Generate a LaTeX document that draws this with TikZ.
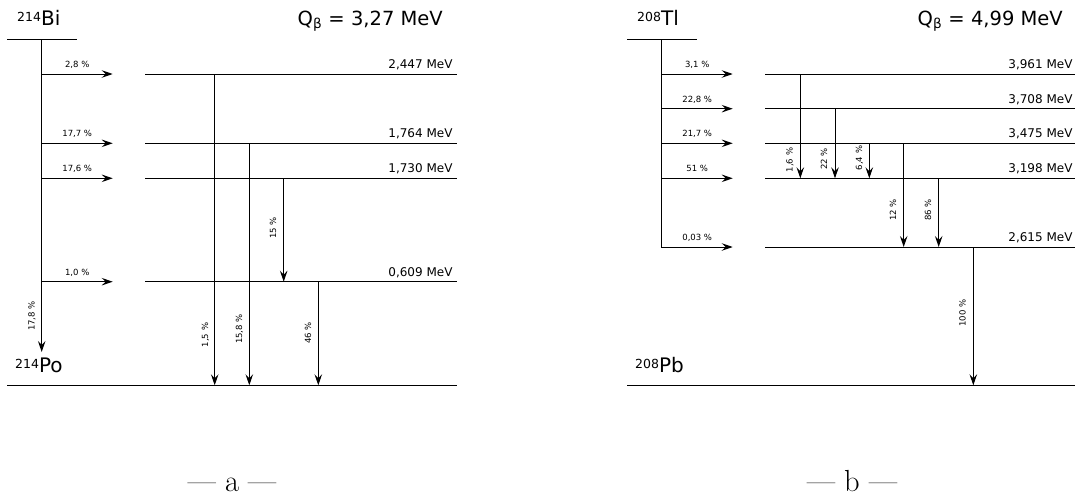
\documentclass[tikz,border=0pt]{standalone}
\usepackage{fontspec}
\setsansfont{DejaVu Sans}
\usetikzlibrary{arrows.meta, positioning}

\newcommand{\isotope}[2]{\raisebox{4.3pt}{\fontsize{12.5}{13}\selectfont #1}#2}

\tikzset{
  lvl/.style={line width=1pt},
  feed/.style={line width=1pt, -{Stealth[length=11pt, width=7.5pt, inset=4pt]}},
  gam/.style={line width=1pt, -{Stealth[length=11pt, width=7.5pt, inset=4pt]}},
  pct/.style={font=\sffamily\fontsize{8.5}{9}\selectfont, inner sep=0pt, anchor=base},
  gpct/.style={pct, rotate=90},
  mev/.style={font=\sffamily\fontsize{12}{14}\selectfont, inner sep=0pt, anchor=base east, xshift=-4pt, yshift=5.5pt},
  nucl/.style={font=\sffamily\fontsize{20}{24}\selectfont, inner sep=0pt, anchor=base west},
  qval/.style={font=\sffamily\fontsize{19.5}{24}\selectfont, inner sep=0pt, anchor=base east},
  capt/.style={font=\fontsize{30.5}{34}\selectfont, inner sep=0pt, anchor=base},
}

\begin{document}
\begin{tikzpicture}[x=1pt, y=-1pt]
    \useasboundingbox (0,0) rectangle (1075,498);

    % ===== a : 214Bi -> 214Po =====
    \node[nucl] (bi) at (17,25.5) {\isotope{214}{Bi}};
    \node[qval] (qbi) at (443,25.5) {Q\textsubscript{β} = 3,27 MeV};
    \draw[lvl] (7,39.3) -- (77,39.3);

    % beta branches
    \draw[feed] (41.7,39.3) -- (41.7,352);
    \node[gpct] (fbi0) at (34.5,316) {17,8 \%};
    \draw[feed] (41.7,74) -- node[pct, yshift=6.5pt] (fbi1) {2,8 \%} (112.7,74);
    \draw[feed] (41.7,143.3) -- node[pct, yshift=6.5pt] (fbi2) {17,7 \%} (112.7,143.3);
    \draw[feed] (41.7,178.3) -- node[pct, yshift=6.5pt] (fbi3) {17,6 \%} (112.7,178.3);
    \draw[feed] (41.7,281.7) -- node[pct, yshift=6.5pt] (fbi4) {1,0 \%} (112.7,281.7);

    % levels of 214Po
    \draw[lvl] (145,74) -- (457,74) node[mev] (epo1) {2,447 MeV};
    \draw[lvl] (145,143.3) -- (457,143.3) node[mev] (epo2) {1,764 MeV};
    \draw[lvl] (145,178.3) -- (457,178.3) node[mev] (epo3) {1,730 MeV};
    \draw[lvl] (145,281.7) -- (457,281.7) node[mev] (epo4) {0,609 MeV};
    \draw[lvl] (7,385.3) -- (457,385.3);
    \node[nucl] (po) at (15,372.7) {\isotope{214}{Po}};

    % gamma transitions
    \draw[gam] (214.7,74) -- (214.7,385.3);
    \node[gpct] (gpo1) at (208,335) {1,5 \%};
    \draw[gam] (249.3,143.3) -- (249.3,385.3);
    \node[gpct] (gpo2) at (242,329) {15,8 \%};
    \draw[gam] (283.7,178.3) -- (283.7,281.7);
    \node[gpct] (gpo3) at (276,228) {15 \%};
    \draw[gam] (318.3,281.7) -- (318.3,385.3);
    \node[gpct] (gpo4) at (311,333) {46 \%};

    \node[capt] (capa) at (232,491.5) {--- a ---};

    % ===== b : 208Tl -> 208Pb =====
    \node[nucl] (tl) at (637,25.5) {\isotope{208}{Tl}};
    \node[qval] (qtl) at (1063,25.5) {Q\textsubscript{β} = 4,99 MeV};
    \draw[lvl] (627,39.3) -- (697,39.3);

    % beta branches
    \draw[feed] (661.7,39.3) -- (661.7,247) -- node[pct, yshift=6.5pt] (ftl5) {0,03 \%} (732.7,247);
    \draw[feed] (661.7,74) -- node[pct, yshift=6.5pt] (ftl1) {3,1 \%} (732.7,74);
    \draw[feed] (661.7,108.7) -- node[pct, yshift=6.5pt] (ftl2) {22,8 \%} (732.7,108.7);
    \draw[feed] (661.7,143.3) -- node[pct, yshift=6.5pt] (ftl3) {21,7 \%} (732.7,143.3);
    \draw[feed] (661.7,178.3) -- node[pct, yshift=6.5pt] (ftl4) {51 \%} (732.7,178.3);

    % levels of 208Pb
    \draw[lvl] (765.3,74) -- (1075,74) node[mev, xshift=2pt] (epb1) {3,961 MeV};
    \draw[lvl] (765.3,108.7) -- (1075,108.7) node[mev, xshift=2pt] (epb2) {3,708 MeV};
    \draw[lvl] (765.3,143.3) -- (1075,143.3) node[mev, xshift=2pt] (epb3) {3,475 MeV};
    \draw[lvl] (765.3,178.3) -- (1075,178.3) node[mev, xshift=2pt] (epb4) {3,198 MeV};
    \draw[lvl] (765.3,247) -- (1075,247) node[mev, xshift=2pt] (epb5) {2,615 MeV};
    \draw[lvl] (627,385.3) -- (1075,385.3);
    \node[nucl] (pb) at (635,372.7) {\isotope{208}{Pb}};

    % gamma transitions
    \draw[gam] (800.3,74) -- (800.3,178.3);
    \node[gpct] (gpb1) at (792.5,160) {1,6 \%};
    \draw[gam] (835,108.7) -- (835,178.3);
    \node[gpct] (gpb2) at (827,159) {22 \%};
    \draw[gam] (869.3,143.3) -- (869.3,178.3);
    \node[gpct] (gpb3) at (862,158) {6,4 \%};
    \draw[gam] (903.7,143.3) -- (903.7,247);
    \node[gpct] (gpb4) at (896,210) {12 \%};
    \draw[gam] (938.7,178.3) -- (938.7,247);
    \node[gpct] (gpb5) at (931,210) {86 \%};
    \draw[gam] (973.3,247) -- (973.3,385.3);
    \node[gpct] (gpb6) at (965.5,313) {100 \%};

    \node[capt] (capb) at (852,491.5) {--- b ---};
\end{tikzpicture}
\end{document}
